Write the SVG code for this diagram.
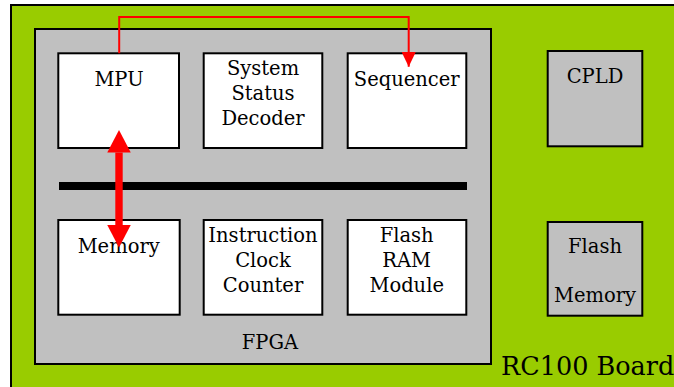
<svg xmlns="http://www.w3.org/2000/svg" width="674" height="387" viewBox="0 0 674 387">
  <style>
    .board { fill: #99cc00; stroke: #000; stroke-width: 2; }
    .chip { fill: #c0c0c0; stroke: #000; stroke-width: 2; }
    .block { fill: #fff; stroke: #000; stroke-width: 2; }
    .label { font-family: "DejaVu Serif", serif; font-size: 19.5px; fill: #000; text-anchor: middle; }
    .title { font-family: "DejaVu Serif", serif; font-size: 25.5px; fill: #000; }
    .bus { fill: #000; }
    .link { fill: none; stroke: #ff0000; stroke-width: 2; }
    .data { fill: none; stroke: #ff0000; stroke-width: 7.4; }
  </style>
  <defs>
    <marker id="head-thin" viewBox="0 0 15 14.4" refX="15" refY="7.2" markerWidth="15" markerHeight="14.4" markerUnits="userSpaceOnUse" orient="auto">
      <path d="M0,0 L15,7.2 L0,14.4 z" fill="#ff0000"/>
    </marker>
    <marker id="head-wide" viewBox="0 0 22.5 23.5" refX="0" refY="11.75" markerWidth="22.5" markerHeight="23.5" markerUnits="userSpaceOnUse" orient="auto-start-reverse">
      <path d="M0,0 L22.5,11.75 L0,23.5 z" fill="#ff0000"/>
    </marker>
  </defs>

  <rect width="674" height="387" fill="#fff"/>

  <!-- RC100 board -->
  <g id="rc100-board">
    <rect class="board" x="11" y="5" width="700" height="420"/>
    <text class="title" x="501" y="375">RC100 Board</text>
  </g>

  <!-- FPGA -->
  <g id="fpga">
    <rect class="chip" x="35" y="29" width="456" height="335"/>
    <text class="label" x="270" y="349">FPGA</text>
  </g>

  <g id="bus">
    <rect class="bus" x="59" y="182" width="408" height="8"/>
  </g>

  <g id="mpu">
    <rect class="block" x="58.3" y="53.3" width="120.7" height="94.7"/>
    <text class="label" x="119" y="86">MPU</text>
  </g>

  <g id="system-status-decoder">
    <rect class="block" x="203.7" y="53.3" width="118.6" height="94.7"/>
    <text class="label" x="263" y="75">System</text>
    <text class="label" x="263" y="100">Status</text>
    <text class="label" x="263" y="125">Decoder</text>
  </g>

  <g id="sequencer">
    <rect class="block" x="347.7" y="53.3" width="118.6" height="94.7"/>
    <text class="label" x="406.7" y="86">Sequencer</text>
  </g>

  <g id="memory">
    <rect class="block" x="58.3" y="220" width="121.4" height="94.7"/>
    <text class="label" x="118.7" y="252.7">Memory</text>
  </g>

  <g id="instruction-clock-counter">
    <rect class="block" x="203.7" y="220" width="118.6" height="94.7"/>
    <text class="label" x="263" y="241.7">Instruction</text>
    <text class="label" x="263" y="266.7">Clock</text>
    <text class="label" x="263" y="292">Counter</text>
  </g>

  <g id="flash-ram-module">
    <rect class="block" x="347.7" y="220" width="118.6" height="94.7"/>
    <text class="label" x="406.7" y="241.7">Flash</text>
    <text class="label" x="406.7" y="266.7">RAM</text>
    <text class="label" x="406.7" y="292">Module</text>
  </g>

  <!-- Board-level parts -->
  <g id="cpld">
    <rect class="chip" x="547.7" y="51" width="94.6" height="95.3"/>
    <text class="label" x="595" y="83.3">CPLD</text>
  </g>

  <g id="flash-memory">
    <rect class="chip" x="547.7" y="222" width="94.6" height="93.7"/>
    <text class="label" x="595" y="253">Flash</text>
    <text class="label" x="595" y="301.7">Memory</text>
  </g>

  <!-- Connectors -->
  <g id="connectors">
    <path class="link" d="M119.2,53.3 V17 H408.7 V66.7" marker-end="url(#head-thin)"/>
    <path class="data" d="M119,152.5 V225" marker-start="url(#head-wide)" marker-end="url(#head-wide)"/>
  </g>
</svg>
